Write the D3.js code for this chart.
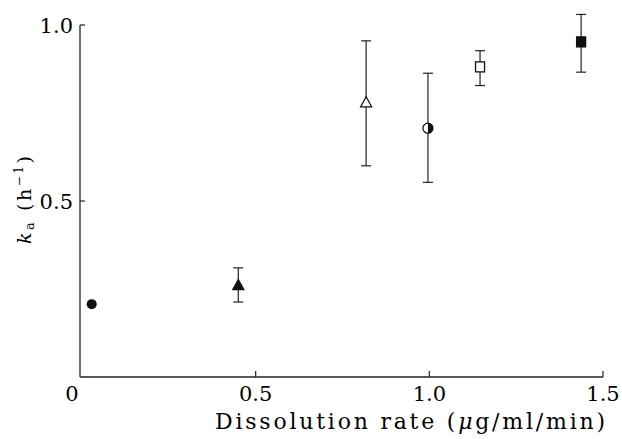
<!DOCTYPE html>
<html lang="en">
<head>
<meta charset="UTF-8">
<script src="https://cdn.jsdelivr.net/npm/d3@7"></script>
<style>
  body { margin: 0; background: #fff; }
  svg { display: block; font-family: "DejaVu Serif", serif; }
</style>
</head>
<body>
<script>
// data
const rate   = [0.028, 0.45, 0.818, 0.996, 1.146, 1.437];
const ka     = [0.207, 0.26, 0.779, 0.707, 0.881, 0.952];
const errHi  = [0.215, 0.31, 0.955, 0.863, 0.927, 1.03];
const errLo  = [0.20, 0.213, 0.60, 0.553, 0.828, 0.866];
const shapes = ["circleFilled", "triFilled", "triOpen", "circleHalf", "squareOpen", "squareFilled"];
const xTicks = [0, 0.5, 1.0, 1.5];
const xTickLabels = ["0", "0.5", "1.0", "1.5"];
const yTicks = [0.5, 1.0];
const yTickLabels = ["0.5", "1.0"];

const W = 622, H = 439;
const svg = d3.select("body").append("svg").attr("width", W).attr("height", H);

const x = d3.scaleLinear().domain([0, 1.5]).range([82, 603]);
const y = d3.scaleLinear().domain([0, 1.0]).range([377, 25]);

// axes lines
svg.append("line").attr("x1", 80).attr("x2", 80).attr("y1", y(1.0)).attr("y2", 377)
  .attr("stroke", "#222").attr("stroke-width", 1.3);
svg.append("line").attr("x1", 80).attr("x2", x(1.5)).attr("y1", 377).attr("y2", 377)
  .attr("stroke", "#222").attr("stroke-width", 1.3);

// x ticks (inward)
xTicks.forEach((t, i) => {
  if (t > 0) {
    svg.append("line").attr("x1", x(t)).attr("x2", x(t)).attr("y1", 377).attr("y2", 371)
      .attr("stroke", "#222").attr("stroke-width", 1.2);
  }
  svg.append("text").attr("x", t === 0 ? 72 : x(t)).attr("y", 401)
    .attr("text-anchor", "middle").attr("font-size", 21).text(xTickLabels[i]);
});

// y ticks
yTicks.forEach((t, i) => {
  svg.append("line").attr("x1", 80).attr("x2", 85).attr("y1", y(t)).attr("y2", y(t))
    .attr("stroke", "#222").attr("stroke-width", 1.2);
  svg.append("text").attr("x", 73).attr("y", y(t) + 8)
    .attr("text-anchor", "end").attr("font-size", 21).text(yTickLabels[i]);
});

// axis titles
svg.append("text").attr("x", 215).attr("y", 429)
  .attr("textLength", 390).attr("lengthAdjust", "spacing")
  .attr("font-size", 22)
  .html('Dissolution rate (<tspan font-style="italic">\u03bc</tspan>g/ml/min)');

svg.append("text").attr("transform", "translate(31,244) rotate(-90)")
  .attr("textLength", 88).attr("lengthAdjust", "spacing")
  .attr("font-size", 19)
  .html('<tspan font-style="italic">k</tspan><tspan font-size="13" dy="3">a</tspan><tspan dy="-3"> (h</tspan><tspan font-size="12" dy="-8">\u22121</tspan><tspan dy="8">)</tspan>');

// error bars
const pts = rate.map((r, i) => ({ r: r, k: ka[i], hi: errHi[i], lo: errLo[i], s: shapes[i] }));
const eb = svg.append("g").attr("stroke", "#222").attr("stroke-width", 1.2);
pts.forEach(d => {
  if (d.hi - d.lo < 0.03) return;
  eb.append("line").attr("x1", x(d.r)).attr("x2", x(d.r)).attr("y1", y(d.hi)).attr("y2", y(d.lo));
  eb.append("line").attr("x1", x(d.r) - 5).attr("x2", x(d.r) + 5).attr("y1", y(d.hi)).attr("y2", y(d.hi));
  eb.append("line").attr("x1", x(d.r) - 5).attr("x2", x(d.r) + 5).attr("y1", y(d.lo)).attr("y2", y(d.lo));
});

// markers
pts.forEach(d => {
  const cx = x(d.r), cy = y(d.k);
  const g = svg.append("g").attr("transform", `translate(${cx},${cy})`);
  if (d.s === "circleFilled") {
    g.append("circle").attr("r", 5).attr("fill", "#111");
  } else if (d.s === "triFilled" || d.s === "triOpen") {
    g.append("path").attr("d", "M0,-6 L5.5,4 L-5.5,4 Z")
      .attr("fill", d.s === "triFilled" ? "#111" : "#fff").attr("stroke", "#111").attr("stroke-width", 1.3);
  } else if (d.s === "circleHalf") {
    g.append("circle").attr("r", 5).attr("fill", "#fff").attr("stroke", "#111").attr("stroke-width", 1.3);
    g.append("path").attr("d", "M0,-5 A5,5 0 0,1 0,5 Z").attr("fill", "#111");
  } else {
    g.append("rect").attr("x", -4.5).attr("y", -5).attr("width", 9).attr("height", 10)
      .attr("fill", d.s === "squareFilled" ? "#111" : "#fff").attr("stroke", "#111").attr("stroke-width", 1.3);
  }
});
</script>
</body>
</html>
